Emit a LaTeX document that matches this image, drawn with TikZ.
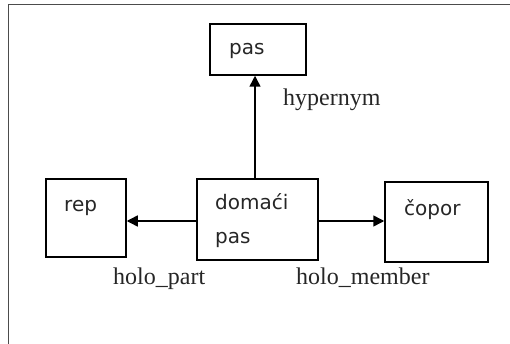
\documentclass[tikz,border=0pt]{standalone}
\usepackage{fontspec}
\setmainfont{Liberation Serif}
\newfontfamily\boxfont{DejaVu Sans}
\usetikzlibrary{arrows.meta}
\begin{document}
\begin{tikzpicture}[x=1pt,y=-1pt,
  wbox/.style={draw=black,line width=1.5pt,inner sep=0pt,anchor=center},
  btext/.style={font=\boxfont\fontsize{20}{24}\selectfont,inner sep=0pt,anchor=base west,text=black!85},
  rel/.style={font=\fontsize{24}{28}\selectfont,inner sep=0pt,anchor=base west,text=black!85},
  arr/.style={line width=1.5pt,-{Triangle[length=11pt,width=11pt]}}]
\useasboundingbox (0,0) rectangle (510,344);
\draw[line width=1.5pt,draw=black!70] (8.5,344) -- (8.5,4.5) -- (510,4.5);
% boxes
\node[wbox,minimum width=96pt,minimum height=51pt] (pas) at (258,49.5) {};
\node[wbox,minimum width=121pt,minimum height=81pt] (dom) at (257.5,219.5) {};
\node[wbox,minimum width=80pt,minimum height=78pt] (rep) at (86,218) {};
\node[wbox,minimum width=103pt,minimum height=80pt] (cop) at (436.5,222) {};
% box texts
\node[btext] (tpas) at (229,54.5) {pas};
\node[btext] (trep) at (64,211.5) {rep};
\node[btext] (tdom) at (215,210) {domaći};
\node[btext] (tdom2) at (215,243) {pas};
\node[btext] (tcop) at (404,215) {čopor};
% arrows
\draw[arr] ([xshift=-2.5pt]dom.north) -- ([xshift=-3pt]pas.south);
\draw[arr] ([yshift=-1.5pt]dom.west) -- ([yshift=-1.5pt]dom.west -| rep.east);
\draw[arr] ([yshift=-1.5pt]dom.east) -- ([yshift=-1.5pt]dom.east -| cop.west);
% labels
\node[rel] (lhyp) at (283,106) {hypernym};
\node[rel] (lpart) at (113,284) {holo\_part};
\node[rel] (lmem) at (296,284) {holo\_member};
\end{tikzpicture}
\end{document}
